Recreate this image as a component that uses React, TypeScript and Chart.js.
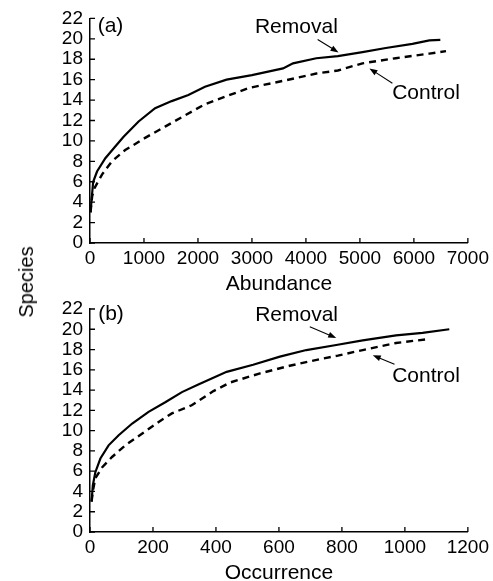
import React, { useEffect, useRef } from "react";
import { Chart, registerables } from "chart.js";

Chart.register(...registerables);

const FONT = "'Liberation Sans', Arial, Helvetica, sans-serif";

// ---------- data ----------
const speciesTicks = [0, 2, 4, 6, 8, 10, 12, 14, 16, 18, 20, 22];
const abundanceTicks = [0, 1000, 2000, 3000, 4000, 5000, 6000, 7000];
const occurrenceTicks = [0, 200, 400, 600, 800, 1000, 1200];

const removalAbundX = [10, 37, 59, 130, 284, 468, 622, 900, 1206, 1514, 1822, 2130, 2530, 3000, 3576, 3761, 4192, 4592, 5048, 5480, 5973, 6287, 6490];
const removalAbundY = [3.0, 4.7, 6.0, 7.0, 8.3, 9.45, 10.4, 11.9, 13.2, 13.9, 14.5, 15.3, 16.0, 16.45, 17.1, 17.6, 18.1, 18.3, 18.7, 19.1, 19.5, 19.85, 19.9];

const controlAbundX = [10, 40, 85, 222, 406, 652, 1021, 1391, 1760, 2130, 2591, 2957, 3638, 4192, 4592, 5048, 5665, 6287, 6595];
const controlAbundY = [3.0, 4.6, 5.4, 6.7, 8.0, 9.1, 10.3, 11.4, 12.5, 13.6, 14.5, 15.2, 15.95, 16.6, 16.9, 17.6, 18.1, 18.55, 18.8];

const removalOccX = [5, 9, 17, 33, 59, 91, 134, 186, 239, 292, 344, 434, 518, 603, 687, 782, 866, 972, 1056, 1141];
const removalOccY = [3.0, 4.6, 5.9, 7.25, 8.55, 9.55, 10.7, 11.85, 12.8, 13.8, 14.55, 15.8, 16.5, 17.3, 17.95, 18.45, 18.9, 19.4, 19.65, 20.0];

const controlOccX = [5, 10, 17, 39, 70, 112, 165, 218, 260, 323, 392, 445, 540, 634, 729, 787, 866, 972, 1067];
const controlOccY = [3.0, 4.2, 5.3, 6.4, 7.4, 8.55, 9.7, 10.85, 11.7, 12.5, 13.9, 14.75, 15.65, 16.4, 17.05, 17.4, 17.95, 18.65, 19.0];

// annotations in data coordinates
const notesAbundance = [
  { text: "Removal", at: [3823, 21.1], from: [4217, 19.94], to: [4604, 18.67] },
  { text: "Control", at: [6225, 14.63], from: [5602, 15.64], to: [5177, 17.1] },
];
const notesOccurrence = [
  { text: "Removal", at: [656, 21.4], from: [698, 20.24], to: [782, 19.15] },
  { text: "Control", at: [1067, 15.37], from: [967, 16.55], to: [898, 17.44] },
];
const panelLabelA = { text: "(a)", at: [142, 21.2] };
const panelLabelB = { text: "(b)", at: [26, 21.5] };

// ---------- plugin ----------
const inwardTicksAndNotes = {
  id: "inwardTicksAndNotes",
  afterDraw(chart: any, _args: any, opts: any) {
    const ctx = chart.ctx;
    const xs = chart.scales.x;
    const ys = chart.scales.y;
    const { left, bottom } = chart.chartArea;
    ctx.save();
    ctx.strokeStyle = "#000";
    ctx.lineWidth = 1.3;
    ctx.beginPath();
    xs.ticks.forEach((t: any) => {
      const px = xs.getPixelForValue(t.value);
      ctx.moveTo(px, bottom);
      ctx.lineTo(px, bottom - 5);
    });
    ys.ticks.forEach((t: any) => {
      const py = ys.getPixelForValue(t.value);
      ctx.moveTo(left, py);
      ctx.lineTo(left + 5, py);
    });
    ctx.stroke();

    ctx.fillStyle = "#000";
    ctx.font = `21px ${FONT}`;
    ctx.textBaseline = "middle";
    if (opts.panel) {
      ctx.textAlign = "left";
      ctx.fillText(opts.panel.text, xs.getPixelForValue(opts.panel.at[0]), ys.getPixelForValue(opts.panel.at[1]));
    }
    ctx.textAlign = "center";
    (opts.notes || []).forEach((n: any) => {
      ctx.fillText(n.text, xs.getPixelForValue(n.at[0]), ys.getPixelForValue(n.at[1]));
      const x1 = xs.getPixelForValue(n.from[0]);
      const y1 = ys.getPixelForValue(n.from[1]);
      const x2 = xs.getPixelForValue(n.to[0]);
      const y2 = ys.getPixelForValue(n.to[1]);
      const ang = Math.atan2(y2 - y1, x2 - x1);
      const hl = 8;
      const hw = 3;
      ctx.lineWidth = 1.1;
      ctx.beginPath();
      ctx.moveTo(x1, y1);
      ctx.lineTo(x2 - Math.cos(ang) * hl * 0.8, y2 - Math.sin(ang) * hl * 0.8);
      ctx.stroke();
      ctx.beginPath();
      ctx.moveTo(x2, y2);
      ctx.lineTo(x2 - Math.cos(ang) * hl - Math.sin(ang) * hw, y2 - Math.sin(ang) * hl + Math.cos(ang) * hw);
      ctx.lineTo(x2 - Math.cos(ang) * hl + Math.sin(ang) * hw, y2 - Math.sin(ang) * hl - Math.cos(ang) * hw);
      ctx.closePath();
      ctx.fill();
    });
    ctx.restore();
  },
};

function pts(xs: number[], ys: number[]) {
  return xs.map((x, i) => ({ x, y: ys[i] }));
}

function buildConfig(p: any): any {
  const tickFont = { family: FONT, size: 19, lineHeight: 1.2 };
  return {
    type: "line",
    data: {
      datasets: [
        {
          label: "Removal",
          data: p.removal,
          borderColor: "#000",
          borderWidth: 2.2,
          pointRadius: 0,
          tension: 0,
          fill: false,
        },
        {
          label: "Control",
          data: p.control,
          borderColor: "#000",
          borderWidth: 2.4,
          borderDash: [7, 5],
          pointRadius: 0,
          tension: 0,
          fill: false,
        },
      ],
    },
    options: {
      responsive: false,
      animation: false,
      layout: { padding: { left: 0, right: 24, top: p.top, bottom: 0 } },
      plugins: {
        legend: { display: false },
        tooltip: { enabled: false },
        inwardTicksAndNotes: { notes: p.notes, panel: p.panel },
      },
      scales: {
        x: {
          type: "linear",
          min: 0,
          max: p.xMax,
          afterBuildTicks: (s: any) => {
            s.ticks = p.xTicks.map((v: number) => ({ value: v }));
          },
          afterFit: (s: any) => {
            s.height = 54;
          },
          ticks: {
            autoSkip: false,
            maxRotation: 0,
            padding: 4,
            color: "#000",
            font: tickFont,
            callback: (v: any) => String(v),
          },
          grid: { drawOnChartArea: false, drawTicks: false },
          border: { display: true, color: "#000", width: 1.5 },
          title: {
            display: true,
            text: p.xTitle,
            color: "#000",
            font: { family: FONT, size: 21, lineHeight: 1.2 },
            padding: { top: 0, bottom: 0 },
          },
        },
        y: {
          type: "linear",
          min: 0,
          max: 22,
          afterBuildTicks: (s: any) => {
            s.ticks = speciesTicks.map((v) => ({ value: v }));
          },
          afterFit: (s: any) => {
            s.width = 90;
          },
          ticks: {
            autoSkip: false,
            padding: 7,
            color: "#000",
            font: tickFont,
            callback: (v: any) => String(v),
          },
          grid: { drawOnChartArea: false, drawTicks: false },
          border: { display: true, color: "#000", width: 1.5 },
        },
      },
    },
    plugins: [inwardTicksAndNotes],
  };
}

export default function App() {
  const refA = useRef<HTMLCanvasElement | null>(null);
  const refB = useRef<HTMLCanvasElement | null>(null);

  useEffect(() => {
    document.body.style.margin = "0";
    document.body.style.overflow = "hidden";
    const a = new Chart(
      refA.current as HTMLCanvasElement,
      buildConfig({
        xTicks: abundanceTicks,
        xMax: 7000,
        xTitle: "Abundance",
        removal: pts(removalAbundX, removalAbundY),
        control: pts(controlAbundX, controlAbundY),
        notes: notesAbundance,
        panel: panelLabelA,
        top: 18,
      })
    );
    const b = new Chart(
      refB.current as HTMLCanvasElement,
      buildConfig({
        xTicks: occurrenceTicks,
        xMax: 1200,
        xTitle: "Occurrence",
        removal: pts(removalOccX, removalOccY),
        control: pts(controlOccX, controlOccY),
        notes: notesOccurrence,
        panel: panelLabelB,
        top: 19,
      })
    );
    return () => {
      a.destroy();
      b.destroy();
    };
  }, []);

  return (
    <div style={{ position: "relative", width: 493, height: 581, overflow: "hidden", background: "#fff" }}>
      <canvas
        ref={refA}
        width={493}
        height={297}
        style={{ position: "absolute", left: 0, top: 0, width: 493, height: 297 }}
      />
      <canvas
        ref={refB}
        width={493}
        height={296}
        style={{ position: "absolute", left: 0, top: 290, width: 493, height: 296 }}
      />
      <div
        style={{
          position: "absolute",
          left: 26,
          top: 282,
          transform: "translate(-50%, -50%) rotate(-90deg)",
          font: `20px ${FONT}`,
          color: "#000",
          whiteSpace: "nowrap",
          lineHeight: 1,
        }}
      >
        Species
      </div>
    </div>
  );
}
